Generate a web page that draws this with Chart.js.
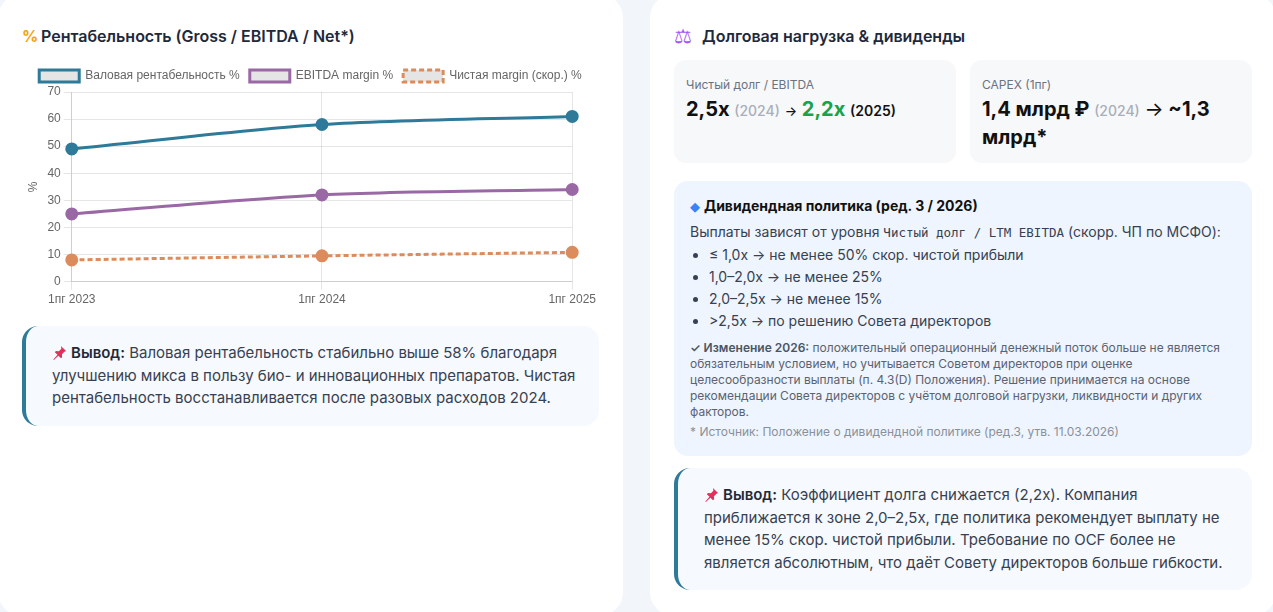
<!DOCTYPE html>
<html lang="ru">
<head>
<meta charset="utf-8">
<script src="https://cdn.jsdelivr.net/npm/chart.js@4.4.1/dist/chart.umd.min.js"></script>
<style>
  html, body { margin: 0; padding: 0; }
  body {
    width: 1273px; height: 612px; overflow: hidden; position: relative;
    background: #f2f5f9; font-family: Inter, "Noto Sans", sans-serif; color: #1f2937;
  }
  .card {
    position: absolute; top: -6px; height: 622px; width: 625px; box-sizing: border-box;
    background: #fff; border-radius: 24px; padding: 30px 24px 24px 24px;
  }
  #left { left: -2px; }
  #right { left: 650px; width: 626px; }
  .card h3 {
    margin: 0; font-size: 16px; line-height: 24px; font-weight: 600; color: #1e293b;
    display: flex; align-items: center;
  }
  .ico { display: inline-block; width: 19px; }
  .pct { color: #f5a30b; font-weight: 700; font-size: 16px; }
  .scale { color: #a855f7; font-family: "DejaVu Sans"; font-size: 20px; width: 28px; }
  .chart-box { position: relative; height: 250px; margin-top: 12px; }
  .note {
    background: #f6f9fd; border-left: 4px solid #2f7a99; border-radius: 16px;
    padding: 16px 16px 16px 26px; font-size: 15px; line-height: 22.5px; color: #374151;
  }
  .note b { color: #1f2937; font-weight: 600; }
  #left .note { margin-top: 16px; }
  .pin { display: inline-block; width: 15px; height: 15px; vertical-align: -2px; margin-right: 4px; }
  .metrics { display: flex; gap: 14px; margin-top: 12px; }
  .metric {
    flex: 1; background: #f6f8fa; border-radius: 12px; padding: 16px 12px 12px 12px;
    min-height: 102px; box-sizing: border-box;
  }
  .metric .lbl { font-size: 12px; line-height: 18px; color: #6b7280; margin-bottom: 2px; }
  .metric .val { font-size: 20px; line-height: 27px; font-weight: 700; color: #111; }
  .metric .yr { font-size: 14px; color: #a9aeb9; font-weight: 500; }
  .metric .yr2 { font-size: 14px; color: #111; font-weight: 600; }
  .metric .arr { font-size: 13px; font-weight: 500; }
  .metric .good { color: #16a34a; }
  .policy {
    margin-top: 18px; background: #eef5fe; border-radius: 14px; padding: 14px 16px 14px 16px;
    font-size: 14px; color: #374151; height: 275px; box-sizing: border-box;
  }
  .policy .t { font-weight: 700; color: #111; line-height: 21px; }
  .diamond { color: #3b82f6; font-family: "DejaVu Sans"; font-size: 13px; margin-right: 4px; }
  .policy .intro { margin-top: 4px; line-height: 21px; }
  .policy code { font-family: "DejaVu Sans Mono", monospace; font-size: 12.5px; color: #374151; }
  .policy ul { margin: 1px 0 0 0; padding-left: 19px; }
  .policy li { line-height: 22px; }
  .policy .chg { margin-top: 8px; font-size: 12px; line-height: 16px; color: #5b6270; }
  .policy .chg b { font-weight: 600; color: #4b5563; }
  .policy .src { margin-top: 4px; font-size: 12px; line-height: 16px; color: #8a909b; }
  #right .note { margin-top: 12px; }
</style>
</head>
<body>
<div class="card" id="left">
  <h3><span class="ico pct">%</span>Рентабельность (Gross / EBITDA / Net*)</h3>
  <div class="chart-box"><canvas id="marginChart"></canvas></div>
  <div class="note">
    <svg class="pin" viewBox="0 0 16 16"><path d="M9.5 1 L15 6.5 L13.3 7.2 L10.6 9.9 L10.8 13 L9.6 14.2 L6.8 11.4 L2 16 L1.4 15.4 L5.9 10.5 L3 7.7 L4.2 6.5 L7.3 6.7 L10 4 Z" fill="#e0315b"/></svg><b>Вывод:</b> Валовая рентабельность стабильно выше 58% благодаря улучшению микса в пользу био- и инновационных препаратов. Чистая рентабельность восстанавливается после разовых расходов 2024.
  </div>
</div>

<div class="card" id="right">
  <h3><span class="ico scale">⚖</span>Долговая нагрузка &amp; дивиденды</h3>
  <div class="metrics">
    <div class="metric">
      <div class="lbl">Чистый долг / EBITDA</div>
      <div class="val">2,5x <span class="yr">(2024)</span> <span class="arr">→</span> <span class="good">2,2x</span> <span class="yr2">(2025)</span></div>
    </div>
    <div class="metric">
      <div class="lbl">CAPEX (1пг)</div>
      <div class="val">1,4 млрд ₽ <span class="yr">(2024)</span> <span style="font-weight:400">→</span> ~1,3 млрд*</div>
    </div>
  </div>
  <div class="policy">
    <div class="t"><span class="diamond">◆</span>Дивидендная политика (ред. 3 / 2026)</div>
    <div class="intro">Выплаты зависят от уровня <code>Чистый долг / LTM EBITDA</code> (скорр. ЧП по МСФО):</div>
    <ul>
      <li>≤ 1,0x → не менее 50% скор. чистой прибыли</li>
      <li>1,0–2,0x → не менее 25%</li>
      <li>2,0–2,5x → не менее 15%</li>
      <li>&gt;2,5x → по решению Совета директоров</li>
    </ul>
    <div class="chg"><b>✓ Изменение 2026:</b> положительный операционный денежный поток больше не является обязательным условием, но учитывается Советом директоров при оценке целесообразности выплаты (п. 4.3(D) Положения). Решение принимается на основе рекомендации Совета директоров с учётом долговой нагрузки, ликвидности и других факторов.</div>
    <div class="src">* Источник: Положение о дивидендной политике (ред.3, утв. 11.03.2026)</div>
  </div>
  <div class="note">
    <svg class="pin" viewBox="0 0 16 16"><path d="M9.5 1 L15 6.5 L13.3 7.2 L10.6 9.9 L10.8 13 L9.6 14.2 L6.8 11.4 L2 16 L1.4 15.4 L5.9 10.5 L3 7.7 L4.2 6.5 L7.3 6.7 L10 4 Z" fill="#e0315b"/></svg><b>Вывод:</b> Коэффициент долга снижается (2,2x). Компания приближается к зоне 2,0–2,5x, где политика рекомендует выплату не менее 15% скор. чистой прибыли. Требование по OCF более не является абсолютным, что даёт Совету директоров больше гибкости.
  </div>
</div>

<script>
// periods on the x axis
const periods = ['1пг 2023', '1пг 2024', '1пг 2025'];

// margins, %
const grossMargin = [49, 58, 61];
const ebitdaMargin = [25, 32, 34];
const netMarginAdj = [8, 9.5, 10.8];

const seriesLabels = ['Валовая рентабельность %', 'EBITDA margin %', 'Чистая margin (скор.) %'];

const ctx = document.getElementById('marginChart').getContext('2d');
new Chart(ctx, {
    type: 'line',
    data: {
        labels: periods,
        datasets: [
            {
                label: seriesLabels[0],
                data: grossMargin,
                borderColor: '#2e7a99',
                pointBackgroundColor: '#2e7a99',
                borderWidth: 3,
                pointRadius: 5,
                tension: 0.3
            },
            {
                label: seriesLabels[1],
                data: ebitdaMargin,
                borderColor: '#9a68a4',
                pointBackgroundColor: '#9a68a4',
                borderWidth: 3,
                pointRadius: 5,
                tension: 0.3
            },
            {
                label: seriesLabels[2],
                data: netMarginAdj,
                borderColor: '#dc8c5c',
                pointBackgroundColor: '#dc8c5c',
                borderWidth: 3,
                borderDash: [5, 3],
                pointRadius: 5,
                tension: 0.3
            }
        ]
    },
    options: {
        responsive: true,
        maintainAspectRatio: false,
        animation: false,
        scales: {
            y: {
                min: 0,
                max: 70,
                ticks: { stepSize: 10, color: '#666' },
                title: { display: true, text: '%', color: '#666' }
            },
            x: {
                ticks: { color: '#666' }
            }
        },
        plugins: {
            legend: {
                position: 'top',
                labels: { color: '#666' }
            }
        }
    }
});
</script>
</body>
</html>
